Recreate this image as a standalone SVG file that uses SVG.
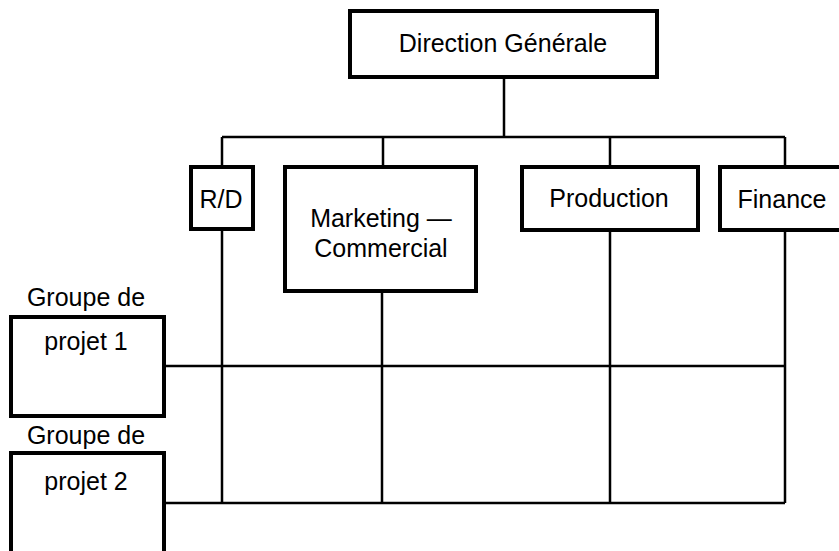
<svg xmlns="http://www.w3.org/2000/svg" width="839" height="551" viewBox="0 0 839 551">
<style>
.box{fill:#fff;stroke:#000;stroke-width:4}
.ln{fill:none;stroke:#000;stroke-width:2.5}
text{font-family:"Liberation Sans",Arial,sans-serif;font-size:25px;fill:#000;text-anchor:middle}
</style>
<rect width="839" height="551" fill="#fff"/>
<g id="connectors">
<path class="ln" d="M504 77V137M222 137H785M222 137V167M383 137V167M610 137V167M785 137V167"/>
<path class="ln" d="M222 229V503M382 291V503M610 230V503M785 230V503"/>
<path class="ln" d="M164 366H785M164 503H785"/>
</g>
<g id="direction"><rect class="box" x="350" y="11" width="307" height="66"/><text x="503" y="52">Direction Générale</text></g>
<g id="rd"><rect class="box" x="191" y="167" width="62" height="62"/><text x="221" y="208">R/D</text></g>
<g id="marketing"><rect class="box" x="285" y="167" width="191" height="124"/><text x="381" y="227">Marketing —</text><text x="381" y="257">Commercial</text></g>
<g id="production"><rect class="box" x="522" y="167" width="176" height="63"/><text x="609" y="207">Production</text></g>
<g id="finance"><rect class="box" x="720" y="167" width="130" height="63"/><text x="782" y="208">Finance</text></g>
<g id="groupe1"><text x="86" y="306">Groupe de</text><rect class="box" x="11" y="317" width="153" height="99"/><text x="86" y="350">projet 1</text></g>
<g id="groupe2"><text x="86" y="444">Groupe de</text><rect class="box" x="11" y="453" width="153" height="110"/><text x="86" y="490">projet 2</text></g>
</svg>
